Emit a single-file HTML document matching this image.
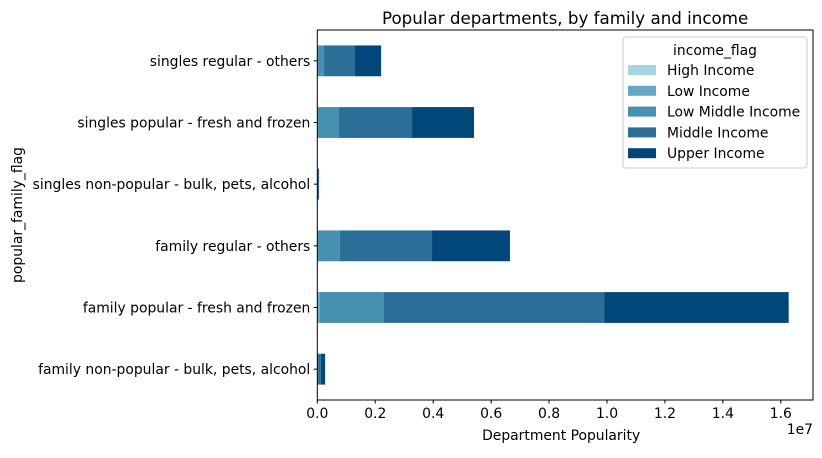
<!DOCTYPE html>
<html><head><meta charset="utf-8"><style>
body{margin:0;background:#fff;}
svg text{font-family:"DejaVu Sans","Liberation Sans",sans-serif;fill:#000;}
</style></head><body>
<svg id="chart" width="822" height="453" xmlns="http://www.w3.org/2000/svg">
<rect width="822" height="453" fill="#fff"/>
<g id="bars"></g>
<g id="axes"></g>
<g id="legend"></g>
</svg>
<script>
const categories = ["singles regular - others","singles popular - fresh and frozen","singles non-popular - bulk, pets, alcohol","family regular - others","family popular - fresh and frozen","family non-popular - bulk, pets, alcohol"];
const seriesNames = ["High Income","Low Income","Low Middle Income","Middle Income","Upper Income"];
const highIncome = [2000, 5000, 500, 5000, 20000, 1000];
const lowIncome = [10000, 20000, 2000, 20000, 70000, 5000];
const lowMiddleIncome = [220000, 725000, 10000, 755000, 2210000, 20000];
const middleIncome = [1070000, 2520000, 20000, 3180000, 7600000, 94000];
const upperIncome = [900000, 2140000, 28000, 2690000, 6370000, 150000];
const xTicks = [0,0.2,0.4,0.6,0.8,1.0,1.2,1.4,1.6];
const xTickLabels = ["0.0","0.2","0.4","0.6","0.8","1.0","1.2","1.4","1.6"];
const colors = ["#a6d6e3","#63a9c7","#4690b0","#2b6f98","#02477a"];
const series = [highIncome, lowIncome, lowMiddleIncome, middleIncome, upperIncome];

const L=317.3, R=813, T=30, B=400, XMAX=1.711e7, FS=13.9;
const NS="http://www.w3.org/2000/svg";
const xs = v => L + v/XMAX*(R-L);
const step = (B-T)/categories.length;
const yc = i => T + step*(i+0.5);
function mk(tag, attrs, parent, txt){const e=document.createElementNS(NS,tag);for(const k in attrs)e.setAttribute(k,attrs[k]);if(txt!==undefined)e.textContent=txt;parent.appendChild(e);return e;}

const bars=document.getElementById('bars');
categories.forEach((c,i)=>{
  let acc=0;
  series.forEach((s,j)=>{
    const x0=xs(acc), x1=xs(acc+s[i]); acc+=s[i];
    const r=mk('rect',{x:x0,y:yc(i)-step*0.25,width:Math.max(0,x1-x0),height:step*0.5,fill:colors[j]},bars);
    
    
  });
});

const ax=document.getElementById('axes');
mk('rect',{x:L,y:T,width:R-L,height:B-T,fill:'none',stroke:'#000','stroke-width':1},ax);
xTicks.forEach((t,k)=>{
  const x=xs(t*1e7);
  mk('line',{x1:x,x2:x,y1:B,y2:B+3.5,stroke:'#000'},ax);
  const tl=mk('text',{x:x,y:B+18,'text-anchor':'middle','font-size':FS},ax,xTickLabels[k]);
  
  
});
categories.forEach((c,i)=>{
  const y=yc(i);
  mk('line',{x1:L-3.5,x2:L,y1:y,y2:y,stroke:'#000'},ax);
  const tl=mk('text',{x:L-7,y:y+5,'text-anchor':'end','font-size':FS},ax,c);
  
  
});
const xt=mk('text',{x:(L+R)/2-4,y:B+40,'text-anchor':'middle','font-size':FS},ax,'Department Popularity');

const ex=mk('text',{x:R,y:B+34,'text-anchor':'end','font-size':FS},ax,'1e7');

const yt=mk('text',{x:0,y:0,'text-anchor':'middle','font-size':FS,transform:'translate(22,'+((T+B)/2)+') rotate(-90)'},ax,'popular_family_flag');

const tt=mk('text',{x:(L+R)/2,y:T-6,'text-anchor':'middle','font-size':16.7},ax,'Popular departments, by family and income');


const lg=document.getElementById('legend');
mk('rect',{x:623,y:37,width:184,height:131,rx:3,fill:'#fff',stroke:'#ccc'},lg);
mk('text',{x:715,y:55,'text-anchor':'middle','font-size':FS},lg,'income_flag');
seriesNames.forEach((n,j)=>{
  const y=70+j*20.8;
  const p=mk('rect',{x:628,y:y-5,width:28,height:10,fill:colors[j]},lg);
  
  const t=mk('text',{x:667,y:y+5,'font-size':FS},lg,n);
  
});
</script>
</body></html>
